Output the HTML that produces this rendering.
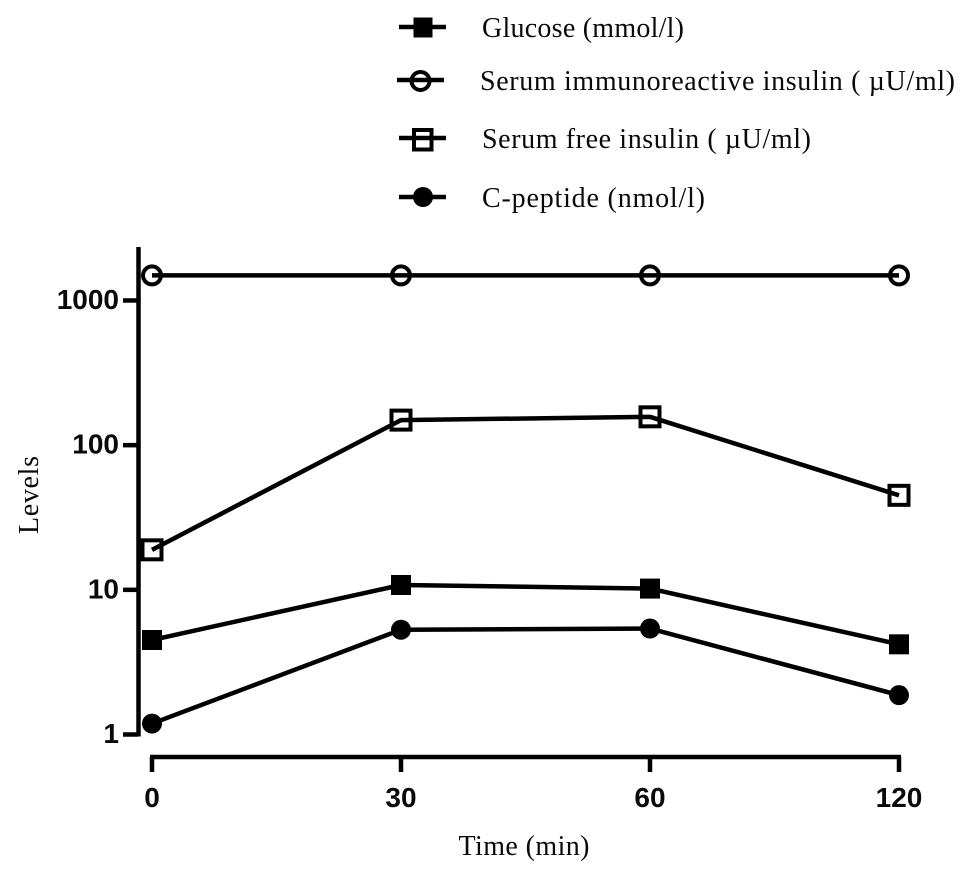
<!DOCTYPE html>
<html lang="en">
<head>
<meta charset="utf-8">
<title>Levels over time</title>
<style>
html,body{margin:0;padding:0;background:#fff;width:969px;height:875px;overflow:hidden}
svg{display:block}
.serif{font-family:"Liberation Serif",serif;fill:#0a0a0a;font-size:28px}
.tick{font-family:"Liberation Sans",sans-serif;font-weight:bold;font-size:28px;fill:#0a0a0a}
</style>
</head>
<body>
<svg id="chart" width="969" height="875" viewBox="0 0 969 875" xmlns="http://www.w3.org/2000/svg">
  <rect width="969" height="875" fill="#fff"/>

  <g id="legend">
    <g>
      <line x1="399" y1="27" x2="446" y2="27" stroke="#000" stroke-width="4.5"/>
      <rect x="413.5" y="17.5" width="19" height="20" fill="#000"/>
      <text class="serif" x="482" y="37" textLength="202" lengthAdjust="spacing">Glucose (mmol/l)</text>
    </g>
    <g>
      <line x1="397" y1="80" x2="444" y2="80" stroke="#000" stroke-width="4.5"/>
      <circle cx="420.5" cy="81" r="9" fill="none" stroke="#000" stroke-width="4"/>
      <text class="serif" x="480" y="90" textLength="475" lengthAdjust="spacing">Serum immunoreactive insulin ( µU/ml)</text>
    </g>
    <g>
      <line x1="399" y1="138" x2="446" y2="138" stroke="#000" stroke-width="4.5"/>
      <rect x="414" y="130" width="17.5" height="19.5" fill="none" stroke="#000" stroke-width="4"/>
      <text class="serif" x="482" y="148" textLength="329" lengthAdjust="spacing">Serum free insulin ( µU/ml)</text>
    </g>
    <g>
      <line x1="399" y1="197" x2="446" y2="197" stroke="#000" stroke-width="4.5"/>
      <circle cx="423" cy="197" r="10" fill="#000"/>
      <text class="serif" x="482" y="207" textLength="223" lengthAdjust="spacing">C-peptide (nmol/l)</text>
    </g>
  </g>

  <text class="serif" transform="translate(38,495) rotate(-90)" text-anchor="middle" textLength="78" lengthAdjust="spacing">Levels</text>
  <text class="serif" x="524" y="855" text-anchor="middle" textLength="131" lengthAdjust="spacing">Time (min)</text>

  <g id="axes"></g>
  <g id="series"></g>
</svg>

<script>
var categories = ['0', '30', '60', '120'];
var yTickValues = [1, 10, 100, 1000];
var yTickLabels = ['1', '10', '100', '1000'];
var glucose = [4.5, 10.8, 10.2, 4.2];
var immunoreactiveInsulin = [1490, 1490, 1490, 1490];
var freeInsulin = [18.9, 149, 157, 45];
var cPeptide = [1.19, 5.3, 5.4, 1.87];

var NS = 'http://www.w3.org/2000/svg';
var axesGroup = document.getElementById('axes');
var seriesGroup = document.getElementById('series');

function xScale(index) {
  return 152 + index * 249;
}
function yScale(value) {
  return 734.5 - Math.log10(value) * 144.67;
}
function make(parent, tag, attrs) {
  var el = document.createElementNS(NS, tag);
  for (var k in attrs) { el.setAttribute(k, attrs[k]); }
  parent.appendChild(el);
  return el;
}

var yAxisLine = make(axesGroup, 'line', {x1: 138.5, y1: 247, x2: 138.5, y2: 736.5, stroke: '#000', 'stroke-width': 4.5});



yTickValues.forEach(function (value, i) {
  var y = yScale(value);
  var tick = make(axesGroup, 'line', {x1: 123, y1: y, x2: 138, y2: y, stroke: '#000', 'stroke-width': 4.5});
  
  
  var label = make(axesGroup, 'text', {x: 119, y: y + 8.5, 'text-anchor': 'end', 'class': 'tick'});
  
  
  label.textContent = yTickLabels[i];
});

var xAxisLine = make(axesGroup, 'line', {x1: xScale(0) - 2, y1: 757, x2: xScale(categories.length - 1) + 2, y2: 757, stroke: '#000', 'stroke-width': 4.5});



categories.forEach(function (cat, i) {
  var x = xScale(i);
  var tick = make(axesGroup, 'line', {x1: x, y1: 757, x2: x, y2: 772, stroke: '#000', 'stroke-width': 4.5});
  
  
  var label = make(axesGroup, 'text', {x: x, y: 807, 'text-anchor': 'middle', 'class': 'tick'});
  
  
  label.textContent = cat;
});

function drawLine(values) {
  var pts = values.map(function (v, i) { return xScale(i) + ',' + yScale(v); }).join(' ');
  return make(seriesGroup, 'polyline', {points: pts, fill: 'none', stroke: '#000', 'stroke-width': 4.5, 'stroke-linejoin': 'round'});
}
function drawSquare(x, y, filled) {
  if (filled) {
    return make(seriesGroup, 'rect', {x: x - 10, y: y - 10, width: 20, height: 20, fill: '#000'});
  }
  return make(seriesGroup, 'rect', {x: x - 9.5, y: y - 9.5, width: 19, height: 19, fill: 'none', stroke: '#000', 'stroke-width': 4});
}
function drawCircle(x, y, filled) {
  if (filled) {
    return make(seriesGroup, 'circle', {cx: x, cy: y, r: 10, fill: '#000'});
  }
  return make(seriesGroup, 'circle', {cx: x, cy: y, r: 9, fill: 'none', stroke: '#000', 'stroke-width': 4});
}

var glucoseLine = drawLine(glucose);


glucose.forEach(function (v, i) {
  var m = drawSquare(xScale(i), yScale(v), true);
  
  
});

var immunoLine = drawLine(immunoreactiveInsulin);


immunoreactiveInsulin.forEach(function (v, i) {
  var m = drawCircle(xScale(i), yScale(v), false);
  
  
});

var freeLine = drawLine(freeInsulin);


freeInsulin.forEach(function (v, i) {
  var m = drawSquare(xScale(i), yScale(v), false);
  
  
});

var cPeptideLine = drawLine(cPeptide);


cPeptide.forEach(function (v, i) {
  var m = drawCircle(xScale(i), yScale(v), true);
  
  
});
</script>
</body>
</html>
